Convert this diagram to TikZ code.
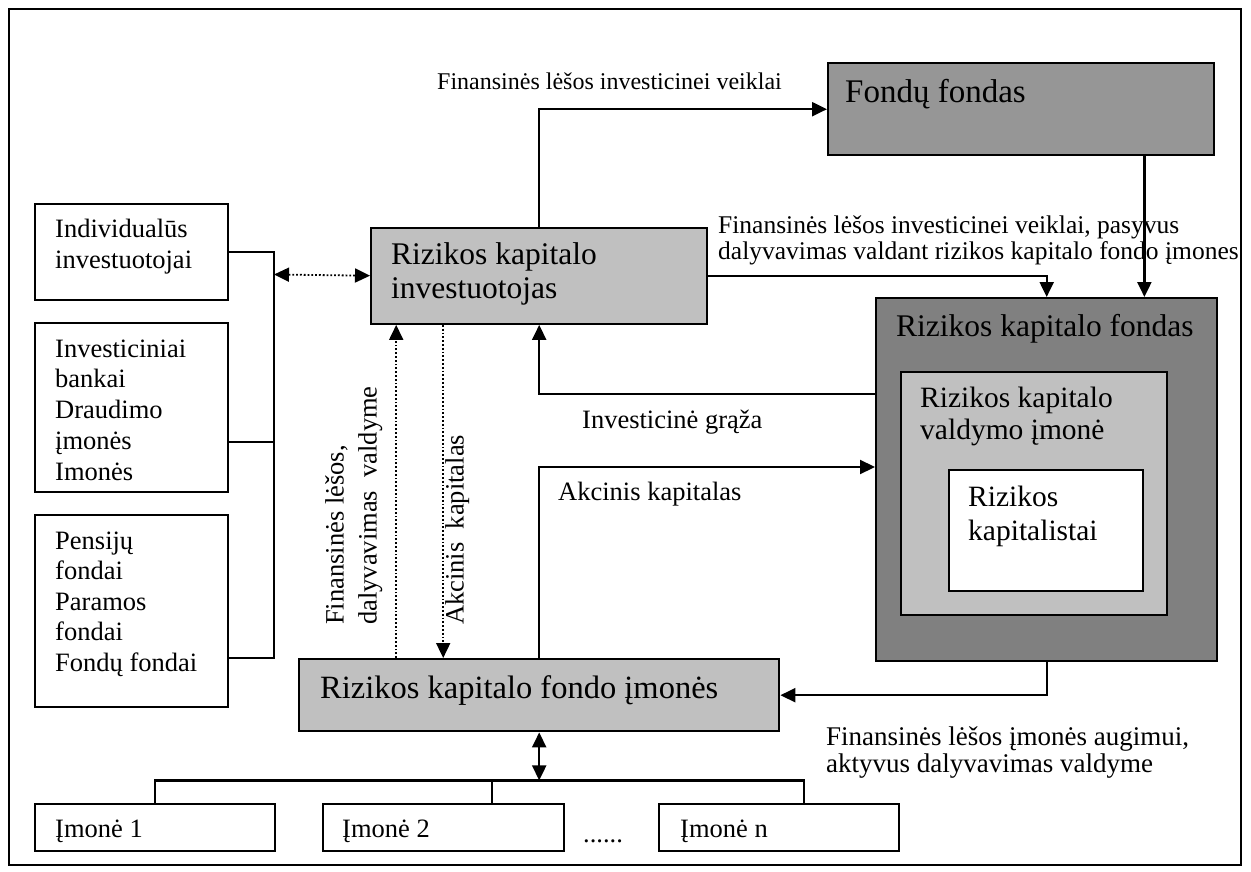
\documentclass[tikz,border=0pt]{standalone}
\usepackage{fontspec}
\setmainfont{Liberation Serif}
\usetikzlibrary{arrows.meta}

\definecolor{lightgrey}{HTML}{C0C0C0}
\definecolor{midgrey}{HTML}{969696}
\definecolor{darkgrey}{HTML}{808080}

\tikzset{
  box/.style={draw=black, line width=2.4pt, rectangle, inner sep=0pt, anchor=north west},
  % multi-line texts are anchored at the baseline of their last line
  txt/.style={inner sep=0pt, anchor=base west, align=left, font=\fontsize{26.5}{29.5}\selectfont},
  bigtxt/.style={txt, font=\fontsize{31.5}{34}\selectfont},
  vtxt/.style={inner sep=0pt, anchor=north west, rotate=90, align=left, font=\fontsize{26.5}{33}\selectfont},
  link/.style={line width=2.2pt},
  dotlink/.style={line width=1.8pt, dash pattern=on 1.8pt off 2pt},
  tip/.style={-{Triangle[length=15pt,width=14pt]}},
  tips/.style={{Triangle[length=15pt,width=14pt]}-{Triangle[length=15pt,width=14pt]}}
}

\begin{document}
\begin{tikzpicture}[x=1pt,y=-1pt]
\useasboundingbox (0,0) rectangle (1251,872);

% frame
\draw[line width=2.4pt] (9,9) rectangle (1241,865);

% investor groups (left column)
\node[box, minimum width=193pt, minimum height=96pt] (ind) at (34,203) {};
\node[txt, font=\fontsize{26.5}{31}\selectfont] (ind-t) at (55,268) {Individualūs\\investuotojai};
\node[box, minimum width=193pt, minimum height=169pt] (bank) at (34,322) {};
\node[txt, font=\fontsize{26.5}{30.75}\selectfont] (bank-t) at (55,480) {Investiciniai\\bankai\\Draudimo\\įmonės\\Imonės};
\node[box, minimum width=193pt, minimum height=192pt] (pens) at (34,514) {};
\node[txt, font=\fontsize{26.5}{30.6}\selectfont] (pens-t) at (55,671.5) {Pensijų\\fondai\\Paramos\\fondai\\Fondų fondai};

% central boxes
\node[box, fill=lightgrey, minimum width=336pt, minimum height=96pt] (inv) at (370,226.5) {};
\node[bigtxt] (inv-t) at (391,298) {Rizikos kapitalo\\investuotojas};

\node[box, fill=midgrey, minimum width=386pt, minimum height=92pt] (ff) at (827,62) {};
\node[txt, font=\fontsize{33}{36}\selectfont] (ff-t) at (845,103) {Fondų fondas};

\node[box, fill=lightgrey, minimum width=480pt, minimum height=72pt] (fi) at (298,658) {};
\node[txt, font=\fontsize{32.5}{36}\selectfont] (fi-t) at (320,698) {Rizikos kapitalo fondo įmonės};

% venture capital fund with nested boxes
\node[box, fill=darkgrey, minimum width=341pt, minimum height=363pt] (rkf) at (875,297) {};
\node[bigtxt] (rkf-t) at (896,336) {Rizikos kapitalo fondas};
\node[box, fill=lightgrey, minimum width=266pt, minimum height=243pt] (vi) at (900,371) {};
\node[txt, font=\fontsize{29.5}{32}\selectfont] (vi-t) at (920,439) {Rizikos kapitalo\\valdymo įmonė};
\node[box, fill=white, minimum width=194pt, minimum height=121pt] (kap) at (948,469) {};
\node[txt, font=\fontsize{29.5}{34}\selectfont] (kap-t) at (968,540) {Rizikos\\kapitalistai};

% portfolio companies
\node[box, minimum width=240pt, minimum height=47pt] (im1) at (34,803) {};
\node[txt] (im1-t) at (55,837) {Įmonė 1};
\node[box, minimum width=241pt, minimum height=47pt] (im2) at (322,803) {};
\node[txt] (im2-t) at (342,837) {Įmonė 2};
\node[box, minimum width=240pt, minimum height=47pt] (imn) at (658,803) {};
\node[txt] (imn-t) at (680,837) {Įmonė n};
\node[txt] (dots) at (583,842) {......};

% bracket joining the investor groups
\coordinate (bk) at (274,274.5);
\coordinate (bank-c) at ([yshift=-120pt]bank.north east);
\coordinate (pens-c) at ([yshift=-144pt]pens.north east);
\draw[link] (ind.east) -- (ind.east -| bk) -- (bk |- pens-c) -- (pens-c);
\draw[link] (bank-c) -- (bank-c -| bk);
\draw[dotlink, tips] (bk) -- (inv.west);

% flows around the investor
\draw[link, tip] (inv.north) |- (ff.west);
\draw[link, tip] (inv.east) -| (rkf.north);
\coordinate (ff-d) at ([xshift=-71pt]ff.south east);
\draw[link, tip] (ff-d) -- (ff-d |- rkf.north);
\draw[link, tip] ([yshift=-97pt]rkf.north west) -| (inv.south);
\draw[link, tip] (fi.north) |- ([yshift=-170pt]rkf.north west);
\draw[link, tip] (rkf.south) |- (fi.east);

% dotted flows between investor and companies
\coordinate (up-s) at ([xshift=-143pt]fi.north);
\draw[dotlink, tip] (up-s) -- (up-s |- inv.south);
\coordinate (dn-s) at ([xshift=-96pt]inv.south);
\draw[dotlink, tip] (dn-s) -- (dn-s |- fi.north);

% companies bus
\coordinate (bus) at ([yshift=-48pt]fi.south);
\draw[link, tips] (fi.south) -- (bus);
\draw[link] (im1.north) |- (bus) -| ([xshift=25pt]imn.north);
\draw[link] ([xshift=48.5pt]im2.north) -- ([xshift=48.5pt]im2.north |- bus);

% connector labels
\node[txt, font=\fontsize{24}{27}\selectfont] (l-top) at (437,90) {Finansinės lėšos investicinei veiklai};
\node[txt, font=\fontsize{25.5}{26}\selectfont] (l-right) at (718,259) {Finansinės lėšos investicinei veiklai, pasyvus\\dalyvavimas valdant rizikos kapitalo fondo įmones};
\node[txt] (l-ret) at (582,428) {Investicinė grąža};
\node[txt] (l-ak) at (558,500) {Akcinis kapitalas};
\node[txt, font=\fontsize{27}{27}\selectfont] (l-bot) at (826,772) {Finansinės lėšos įmonės augimui,\\aktyvus dalyvavimas valdyme};
\node[vtxt] (l-fin) at (325,625) {Finansinės lėšos,\\dalyvavimas\ \ valdyme};
\node[vtxt] (l-akv) at (445,625) {Akcinis\ \ kapitalas};
\end{tikzpicture}
\end{document}
